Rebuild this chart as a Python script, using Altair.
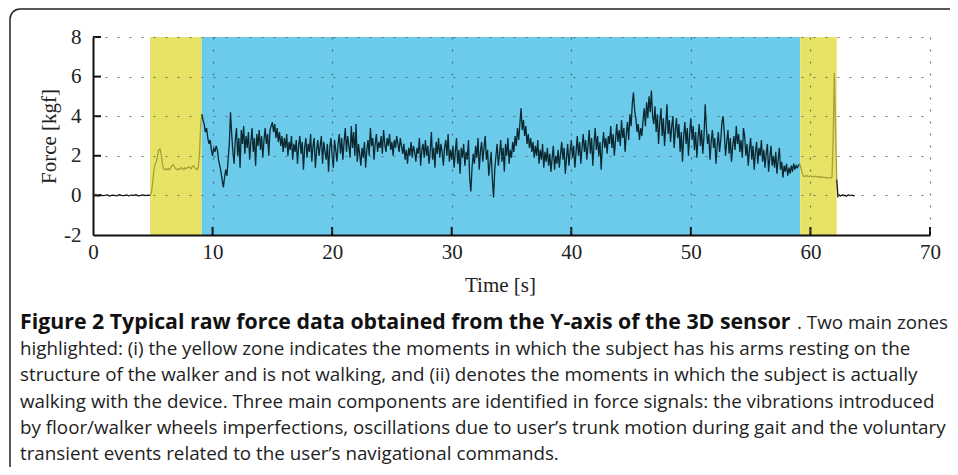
import altair as alt
import pandas as pd
import numpy as np

# ---------------- data ----------------
x_ticks = [0, 10, 20, 30, 40, 50, 60, 70]
y_ticks = [-2, 0, 2, 4, 6, 8]

zone_names = ["rest1", "walk", "rest2"]
zone_start = [4.77, 9.1, 59.15]
zone_end = [9.1, 59.15, 62.2]
zone_colors = ["#E6E366", "#6CCBEB", "#E6E366"]

seg_names = ["pre", "rest1", "walk", "rest2", "post"]
seg_start = [0.0, 4.8, 9.1, 59.1, 62.2]
seg_step = [0.2, 0.1, 0.1, 0.1, 0.1]
seg_colors = ["#111111", "#A6A239", "#0B2830", "#A6A239", "#111111"]

pre_force = [0.0, 0.02, -0.02, 0.03, -0.01, 0.0, 0.02, -0.03, 0.01, 0.0, -0.02, 0.03, 0.0,
             -0.01, 0.02, -0.02, 0.01, 0.0, 0.03, -0.02, 0.0, 0.02, -0.01, 0.01, 0.0]

rest1_force = [0.0, 0.2,
               0.7, 1.3, 1.6, 1.7, 2.0, 2.3, 2.35, 2.1, 1.6, 1.35,
               1.3, 1.35, 1.3, 1.35, 1.3, 1.4, 1.5, 1.55, 1.45, 1.35,
               1.3, 1.35, 1.3, 1.35, 1.4, 1.35, 1.3, 1.4, 1.35, 1.4,
               1.45, 1.4, 1.35, 1.45, 1.5, 1.4, 1.35, 1.3, 1.4, 2.0,
               3.5, 4.1]

walk_force = [
    4.1, 3.8, 3.6, 3.2, 3.4, 2.9, 2.6, 2.8, 2.3,
    2.0, 2.4, 2.2, 2.5, 2.3, 1.8, 1.5, 1.2, 0.8, 0.4,
    0.9, 1.3, 1.0, 1.8, 2.6, 4.2, 3.1, 2.2, 1.6, 2.8,
    3.4, 2.0, 2.9, 1.4, 3.3, 2.6, 3.5, 2.1, 3.0, 2.4,
    3.2, 1.8, 2.7, 3.4, 2.2, 2.9, 1.5, 3.1, 2.5, 3.3,
    2.3, 3.0, 1.9, 2.8, 3.4, 2.6, 3.1, 2.0, 3.3, 3.5,
    3.7, 3.2, 3.6, 2.9, 3.4, 2.7, 3.2, 2.5, 3.0, 2.2,
    2.9, 2.4, 3.1, 2.0, 2.7, 2.3, 3.0, 1.8, 2.6, 2.2,
    2.8, 1.6, 2.5, 3.0, 2.1, 2.7, 1.3, 2.4, 2.9, 1.9,
    2.6, 2.2, 3.1, 1.7, 2.5, 2.9, 1.4, 2.3, 2.8, 2.0,
    2.5, 3.0, 1.6, 2.7, 2.2, 1.8, 2.6, 1.2, 2.4, 2.9,
    2.0, 1.4, 2.8, 2.3, 1.7, 2.6, 3.1, 2.1, 2.9, 1.8,
    2.7, 3.4, 2.2, 3.0, 2.5, 1.9, 3.5, 2.4, 3.2, 2.0,
    3.6, 1.7, 2.6, 2.1, 1.5, 2.4, 1.9, 2.7, 1.4, 2.3,
    2.8, 2.0, 3.4, 2.5, 2.9, 1.8, 2.6, 3.1, 2.2, 2.7,
    2.4, 3.0, 2.1, 3.3, 2.6, 2.2, 2.9, 2.5, 3.1, 2.3,
    2.7, 2.0, 2.8, 2.4, 3.0, 2.6, 2.2, 2.9, 2.5, 2.1,
    2.6, 1.8, 2.3, 1.6, 2.4, 2.0, 2.7, 1.9, 2.5, 2.2,
    1.7, 2.4, 2.1, 2.9, 1.5, 2.3, 2.6, 1.9, 2.8, 2.0,
    2.5, 1.6, 2.2, 3.2, 1.8, 2.4, 1.4, 2.7, 2.1, 2.9,
    1.9, 2.6, 2.2, 1.5, 2.4, 2.8, 2.0, 3.1, 1.7, 2.3,
    1.8, 2.5, 1.4, 2.2, 2.9, 1.6, 2.3, 1.1, 2.4, 1.9,
    2.6, 1.5, 2.2, 1.8, 2.8, 0.9, 0.2, 1.4, 2.1, 1.6,
    2.5, 1.9, 2.9, 1.3, 2.2, 2.7, 1.7, 2.4, 3.0, 1.8,
    2.3, 1.0, 1.6, 2.2, 0.8, -0.1, 1.3, 2.0, 2.6, 1.5,
    2.1, 2.8, 1.7, 2.4, 1.2, 2.6, 2.0, 2.9, 1.6, 2.3,
    1.9, 2.7, 2.2, 3.0, 2.5, 3.4, 2.8, 3.6, 4.4, 3.3,
    3.8, 3.0, 3.5, 2.6, 3.1, 2.4, 2.9, 2.2, 2.7, 1.9,
    2.5, 2.0, 2.8, 1.6, 2.3, 1.8, 2.6, 1.4, 2.2, 1.7,
    2.4, 1.5, 2.1, 1.2, 1.9, 2.5, 1.3, 2.0, 1.6, 2.3,
    1.4, 2.1, 2.7, 1.8, 2.4, 1.1, 1.9, 2.6, 1.5, 2.2,
    2.8, 1.9, 2.5, 1.4, 2.2, 3.0, 2.0, 2.7, 1.6, 2.4,
    3.1, 2.2, 2.8, 1.8, 2.5, 3.3, 2.1, 2.9, 1.5, 2.6,
    3.4, 2.3, 3.0, 2.0, 2.7, 1.3, 2.5, 3.2, 2.4, 2.9,
    2.1, 3.0, 2.6, 3.5, 2.4, 3.1, 2.0, 2.8, 3.6, 2.7,
    3.3, 2.5, 3.8, 2.9, 3.4, 2.2, 3.1, 3.7, 2.8, 4.1,
    3.5, 4.6, 5.2, 4.3, 3.9, 3.2, 3.6, 2.8, 3.4, 3.0,
    3.8, 4.4, 3.5, 4.7, 3.9, 5.0, 4.2, 5.3, 4.0, 3.6,
    4.5, 3.2, 4.1, 2.6, 3.7, 4.4, 3.0, 3.9, 2.5, 3.5,
    4.6, 3.1, 3.8, 2.7, 3.5, 4.0, 2.4, 3.3, 3.9, 2.9,
    3.6, 2.2, 3.2, 1.7, 3.0, 3.7, 2.6, 3.4, 2.0, 3.1,
    3.9, 2.8, 3.5, 2.3, 3.2, 1.9, 2.9, 3.6, 2.5, 3.3,
    2.1, 3.0, 4.6, 3.4, 2.6, 3.1, 1.8, 2.7, 3.3, 2.4,
    2.9, 1.6, 2.5, 3.2, 2.2, 2.8, 3.7, 4.0, 3.1, 2.0,
    2.7, 3.3, 2.1, 2.9, 1.7, 2.5, 3.0, 2.3, 3.5, 2.6,
    3.1, 2.2, 2.8, 1.9, 3.4, 3.0, 2.0, 2.6, 1.5, 2.3,
    2.9, 1.8, 2.5, 1.3, 2.2, 2.7, 1.6, 2.4, 2.0, 2.8,
    1.7, 2.3, 1.4, 2.1, 2.6, 1.2, 1.9, 2.5, 1.5, 2.0,
    1.4, 2.2, 1.1, 1.8, 2.4, 1.3, 1.7, 0.9, 1.5, 1.2,
    1.6, 1.0, 1.4, 1.1, 1.5, 1.2, 1.6, 1.3, 1.5, 1.4,
    1.5, 1.6,
]

rest2_force = [1.6, 1.4, 1.15, 1.0, 0.95, 0.97, 1.0, 0.96, 0.95,
               0.98, 0.96, 0.94, 0.95, 0.97, 0.95, 0.93, 0.92, 0.94, 0.93,
               0.9, 0.92, 0.9, 0.91, 0.89, 0.9, 0.88, 0.87, 0.9, 2.8,
               6.2, 3.4, 0.8]

post_force = [0.8, -0.05, 0.02, -0.03, 0.0, 0.03, -0.02, 0.01, -0.04, 0.0, 0.02,
              -0.01, 0.0, 0.01, -0.02, 0.0]

caption_bold = "Figure 2 Typical raw force data obtained from the Y-axis of the 3D sensor"
caption_first_rest = ". Two main zones"
caption_lines = [
    "highlighted: (i) the yellow zone indicates the moments in which the subject has his arms resting on the",
    "structure of the walker and is not walking, and (ii) denotes the moments in which the subject is actually",
    "walking with the device. Three main components are identified in force signals: the vibrations introduced",
    "by floor/walker wheels imperfections, oscillations due to user\u2019s trunk motion during gait and the voluntary",
    "transient events related to the user\u2019s navigational commands.",
]

# ---------------- build tables ----------------
seg_values = [pre_force, rest1_force, walk_force, rest2_force, post_force]
frames = []
for name, start, step, vals in zip(seg_names, seg_start, seg_step, seg_values):
    t = np.round(start + step * np.arange(len(vals)), 3)
    frames.append(pd.DataFrame({"t": t, "f": vals, "seg": name}))
sig = pd.concat(frames, ignore_index=True)

zones = pd.DataFrame({"zone": zone_names, "start": zone_start, "end": zone_end})

W, H = 837, 198
SERIF = "Liberation Serif"
SANS = "Open Sans"

xscale = alt.Scale(domain=[0, 70], nice=False, zero=False)
yscale = alt.Scale(domain=[-2, 8], nice=False, zero=False)

common = dict(grid=True, gridDash=[2, 10], gridColor="#555", gridOpacity=0.8, gridWidth=1.2,
              ticks=False, domainColor="#111", domainWidth=2, labelFont=SERIF,
              labelFontSize=21, labelColor="#222", labelFlush=False, titleFont=SERIF,
              titleFontSize=21, titleFontWeight="normal", titleColor="#222", zindex=1)
x_axis = alt.Axis(values=x_ticks, format="d", labelPadding=6, titlePadding=12,
                  titleX=407, **common)
y_axis = alt.Axis(values=y_ticks, labelPadding=12, titlePadding=4,
                  labelExpr="datum.value < 0 ? '-' + abs(datum.value) : '' + datum.value",
                  **common)

X_TITLE = "Time [s]"
Y_TITLE = "Force [kgf]"

zone_layer = alt.Chart(zones).mark_rect().encode(
    x=alt.X("start:Q", scale=xscale, axis=x_axis, title=X_TITLE),
    x2="end:Q",
    y=alt.value(0),
    y2=alt.value(H),
    color=alt.Color("zone:N", scale=alt.Scale(domain=zone_names, range=zone_colors), legend=None),
)

line_layer = alt.Chart(sig).mark_line(strokeWidth=1.3).encode(
    x=alt.X("t:Q", scale=xscale, axis=x_axis, title=X_TITLE),
    y=alt.Y("f:Q", scale=yscale, axis=y_axis, title=Y_TITLE),
    detail="seg:N",
    stroke=alt.Stroke("seg:N", scale=alt.Scale(domain=seg_names, range=seg_colors), legend=None),
    order="t:Q",
)

xt = pd.DataFrame({"v": x_ticks[1:]})
xtick_layer = alt.Chart(xt).mark_rule(color="#111", strokeWidth=2).encode(
    x=alt.X("v:Q", scale=xscale, axis=x_axis, title=X_TITLE),
    y=alt.value(H),
    y2=alt.value(H - 8),
)
yt = pd.DataFrame({"v": y_ticks[1:]})
ytick_layer = alt.Chart(yt).mark_rule(color="#111", strokeWidth=2).encode(
    y=alt.Y("v:Q", scale=yscale, axis=y_axis, title=Y_TITLE),
    x=alt.value(0),
    x2=alt.value(8),
)

# caption
PLOT_LEFT, PLOT_TOP = 93, 37
cap_x = 20 - PLOT_LEFT
line_y0 = 323 - PLOT_TOP
line_gap = 26.2

cap_layers = []
cap_layers.append(
    alt.Chart(pd.DataFrame({"txt": [caption_bold]})).mark_text(
        align="left", baseline="middle", font=SANS, fontSize=21.3, fontWeight="bold", color="#111"
    ).encode(text="txt:N", x=alt.value(cap_x), y=alt.value(line_y0))
)
cap_layers.append(
    alt.Chart(pd.DataFrame({"txt": [caption_first_rest]})).mark_text(
        align="right", baseline="middle", font=SANS, fontSize=18.8, color="#222"
    ).encode(text="txt:N", x=alt.value(948 - PLOT_LEFT), y=alt.value(line_y0))
)
for i, ln in enumerate(caption_lines):
    cap_layers.append(
        alt.Chart(pd.DataFrame({"txt": [ln]})).mark_text(
            align="left", baseline="middle", font=SANS, fontSize=18.8, color="#222"
        ).encode(text="txt:N", x=alt.value(cap_x), y=alt.value(line_y0 + line_gap * (i + 1)))
    )

border = alt.Chart(pd.DataFrame({"b": [0]})).mark_rect(
    filled=False, stroke="#222", strokeWidth=1.5, cornerRadius=10
).encode(
    x=alt.value(10 - PLOT_LEFT), x2=alt.value(1000 - PLOT_LEFT),
    y=alt.value(9 - PLOT_TOP), y2=alt.value(520 - PLOT_TOP),
)

chart = alt.layer(
    zone_layer, line_layer, xtick_layer, ytick_layer, *cap_layers, border
).properties(
    width=W, height=H,
    padding={"left": 85, "top": 29, "right": 20, "bottom": 232},
    autosize=alt.AutoSizeParams(type="none"),
).configure_view(strokeWidth=0)

chart.save("out.html", embed_options={"renderer": "svg", "actions": False})
